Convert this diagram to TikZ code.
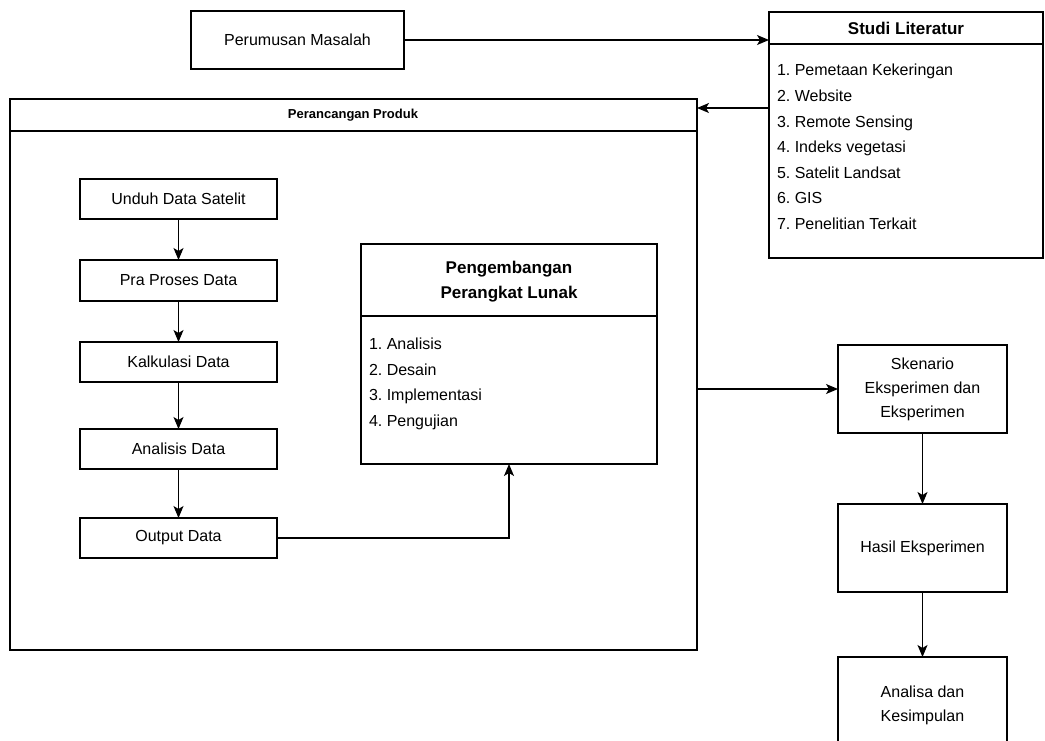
\documentclass[tikz,border=0pt]{standalone}
\usepackage{fontspec}
\setmainfont{Liberation Sans}
\usetikzlibrary{arrows.meta,calc}
\frenchspacing
\begin{document}
\begin{tikzpicture}[x=1pt,y=-1pt,
  box/.style={draw, line width=1.2pt, inner sep=0pt, outer sep=0pt, anchor=north west, align=center,
    font=\fontsize{16}{24}\selectfont},
  plain/.style={inner sep=0pt, outer sep=0pt},
  ttl/.style={plain, align=center, font=\bfseries\fontsize{17}{25}\selectfont},
  lst/.style={plain, align=left, anchor=west, font=\fontsize{16}{25.6}\selectfont},
  divider/.style={line width=1.2pt},
  arr/.style={line width=1.2pt, -{Stealth[length=12pt,width=10pt,inset=3pt]}}]
\useasboundingbox (0,0) rectangle (1045,740);

% top row
\node[box, minimum width=213pt, minimum height=58pt] (perum) at (191,11) {Perumusan Masalah};
\node[box, minimum width=274pt, minimum height=246pt] (studi) at (769,12) {};
\draw[divider] (studi.north west |- 0,44) -- (studi.north east |- 0,44);
\node[ttl] (studit) at (906,28) {Studi Literatur};
\node[lst] (studil) at (777,147) {1. Pemetaan Kekeringan\\2. Website\\3. Remote Sensing\\4. Indeks vegetasi\\5. Satelit Landsat\\6. GIS\\7. Penelitian Terkait};

% Perancangan Produk container
\node[box, minimum width=687pt, minimum height=551pt] (prod) at (10,99) {};
\draw[divider] (prod.north west |- 0,131) -- (prod.north east |- 0,131);
\node[plain, font=\bfseries\fontsize{13}{15}\selectfont] (prodt) at (353,115) {Perancangan Produk};

% left chain
\node[box, minimum width=197pt, minimum height=40pt] (unduh) at (80,179) {Unduh Data Satelit};
\node[box, minimum width=197pt, minimum height=41pt] (pra) at (80,260) {Pra Proses Data};
\node[box, minimum width=197pt, minimum height=40pt] (kalk) at (80,342) {Kalkulasi Data};
\node[box, minimum width=197pt, minimum height=40pt] (anls) at (80,429) {Analisis Data};
\node[box, minimum width=197pt, minimum height=40pt] (outp) at (80,518) {Output Data};

% Pengembangan Perangkat Lunak
\node[box, minimum width=296pt, minimum height=220pt] (peng) at (361,244) {};
\draw[divider] (peng.north west |- 0,316) -- (peng.north east |- 0,316);
\node[ttl] (pengt) at (509,282) {Pengembangan\\Perangkat Lunak};
\node[lst] (pengl) at (369,384) {1. Analisis\\2. Desain\\3. Implementasi\\4. Pengujian};

% right chain
\node[box, minimum width=169pt, minimum height=88pt] (sken) at (838,345) {Skenario\\Eksperimen dan\\Eksperimen};
\node[box, minimum width=169pt, minimum height=88pt] (hasil) at (838,504) {Hasil Eksperimen};
\node[box, minimum width=169pt, minimum height=96pt] (anlsa) at (838,657) {Analisa dan\\Kesimpulan};

% connectors
\draw[arr] (perum.east) -- (perum.east -| studi.west);
\draw[arr] (studi.west |- 0,108) -- (prod.east |- 0,108);
\draw[arr] (unduh) -- (pra);
\draw[arr] (pra) -- (kalk);
\draw[arr] (kalk) -- (anls);
\draw[arr] (anls) -- (outp);
\draw[arr] (outp.east) -| (peng.south);
\draw[arr] (prod.east |- sken.west) -- (sken.west);
\draw[arr] (sken) -- (hasil);
\draw[arr] (hasil) -- (anlsa);
\end{tikzpicture}
\end{document}
